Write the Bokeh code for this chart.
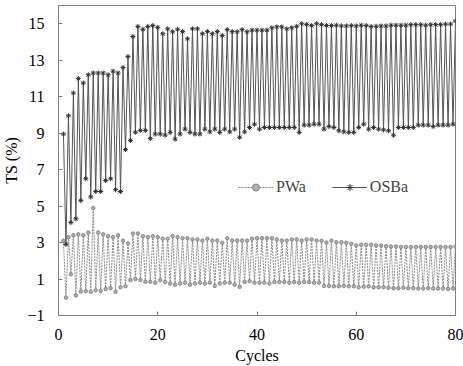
from bokeh.plotting import figure
from bokeh.models import Range1d, FixedTicker, Legend, LegendItem
from bokeh.embed import file_html
from bokeh.resources import INLINE

# ---- data ----
cycles = list(range(1, 81))
x_ticks = [0, 20, 40, 60, 80]
y_ticks = [-1, 1, 3, 5, 7, 9, 11, 13, 15]

osba_high = [8.95, 9.95, 11.2, 12.0, 11.75, 12.2, 12.3, 12.3, 12.3, 12.2,
             12.4, 12.3, 12.6, 13.2, 14.3, 14.85, 14.7, 14.85, 14.9, 14.8,
             14.45, 14.72, 14.56, 14.7, 14.57, 14.17, 14.72, 14.72, 14.45, 14.57,
             14.45, 14.57, 14.36, 14.68, 14.57, 14.56, 14.68, 14.56, 14.65, 14.65,
             14.65, 14.65, 14.78, 14.83, 14.83, 14.72, 14.78, 14.86, 15.0, 14.96,
             14.9, 15.0, 14.95, 14.9, 14.9, 14.92, 14.88, 14.88, 14.9, 14.88,
             14.92, 14.9, 14.85, 14.86, 14.88, 14.88, 14.92, 14.92, 14.92, 14.92,
             14.95, 14.95, 14.95, 14.92, 14.95, 14.95, 14.95, 14.98, 14.98, 15.15]
osba_low = [2.9, 4.1, 4.3, 5.3, 6.5, 5.5, 5.8, 5.8, 6.4, 6.5,
            5.9, 5.8, 8.1, 8.6, 9.05, 9.15, 9.15, 8.7, 8.95,
            8.95, 8.89, 9.04, 8.67, 8.95, 9.22, 9.04, 8.95, 8.95, 9.22,
            9.07, 9.22, 9.04, 9.22, 9.07, 9.22, 8.77, 9.07, 9.31, 9.49,
            9.22, 9.31, 9.31, 9.31, 9.31, 9.31, 9.31, 9.31, 9.04, 9.44,
            9.44, 9.49,
            9.49, 9.22, 9.36, 9.31, 9.13, 9.07, 9.04, 9.04, 9.31, 9.49,
            9.22, 9.31, 9.22, 9.18, 9.13, 8.89, 9.31, 9.31, 9.31, 9.31,
            9.44, 9.44, 9.44, 9.36, 9.44, 9.44, 9.44, 9.49]
pwa_high = [3.1, 3.3, 3.4, 3.45, 3.4, 3.55, 4.9, 3.55, 3.45, 3.35,
            3.3, 3.4, 3.1, 2.95, 3.5, 3.5, 3.35, 3.3, 3.35, 3.3,
            3.21, 3.21, 3.35, 3.30, 3.24, 3.24, 3.17, 3.17, 3.11, 3.21,
            3.11, 3.11, 2.99, 3.24, 3.11, 3.11, 3.11, 3.11, 3.21, 3.24,
            3.24, 3.24, 3.24, 3.17, 3.11, 3.11, 3.17, 3.17, 3.11, 3.17,
            3.17, 3.11, 3.1, 3.0, 3.11, 3.02, 3.02, 2.99, 2.93, 2.84,
            2.88, 2.88, 2.88, 2.84, 2.84, 2.8, 2.78, 2.78, 2.76, 2.76,
            2.76, 2.76, 2.76, 2.76, 2.76, 2.76, 2.76, 2.76, 2.76, 2.78]
pwa_low = [-0.02, 1.26, 0.1, 0.32, 0.33, 0.3, 0.38, 0.35, 0.45, 0.5,
           0.3, 0.55, 0.6, 0.95, 1.0, 0.95, 0.85, 0.85, 0.8,
           0.93, 0.84, 0.75, 0.69, 0.75, 0.80, 0.69, 0.75, 0.80, 0.75,
           0.80, 0.62, 0.75, 0.80, 0.80, 0.69, 0.57, 0.84, 0.88, 0.80,
           0.80, 0.80, 0.75, 0.84, 0.84, 0.84, 0.80, 0.84, 0.80, 0.84,
           0.84, 0.80,
           0.8, 0.62, 0.62, 0.6, 0.6, 0.62, 0.6, 0.6, 0.55, 0.58,
           0.6, 0.55, 0.55, 0.55, 0.52, 0.5, 0.5, 0.52, 0.5, 0.5,
           0.48, 0.48, 0.5, 0.48, 0.48, 0.48, 0.46, 0.48]


def interleave(high, low):
    xs, ys = [], []
    for i, c in enumerate(cycles):
        xs.append(c)
        ys.append(high[i])
        if i < len(low):
            xs.append(c + 0.5)
            ys.append(low[i])
    return xs, ys


FONT = "Liberation Serif"

p = figure(width=463, height=366, output_backend="svg", toolbar_location=None,
           x_range=Range1d(0, 80), y_range=Range1d(-1, 16),
           min_border_left=58, min_border_right=8, min_border_top=5,
           min_border_bottom=49)
p.xgrid.visible = False
p.ygrid.visible = False
p.outline_line_color = "#808080"
p.background_fill_color = "white"
p.border_fill_color = "white"

px, py = interleave(pwa_high, pwa_low)
ox, oy = interleave(osba_high, osba_low)

pl = p.line(px, py, line_color="#8a8a8a", line_width=1, line_dash="2 1")
pm = p.scatter(px, py, marker="circle", size=3.5, line_color="#777777",
               fill_color="#b0b0b0", line_width=0.8)
ol = p.line(ox, oy, line_color="#555555", line_width=1)
om = p.scatter(ox, oy, marker="asterisk", size=5, line_color="#333333",
               line_width=1)

for ax in (p.xaxis[0], p.yaxis[0]):
    ax.axis_line_color = "#808080"
    ax.major_tick_line_color = "#808080"
    ax.major_tick_in = 4
    ax.major_tick_out = 0
    ax.minor_tick_line_color = None
    ax.major_label_text_font = FONT
    ax.major_label_text_font_size = "16px"
    ax.major_label_text_color = "black"
    ax.axis_label_text_font = FONT
    ax.axis_label_text_font_size = "16px"
    ax.axis_label_text_font_style = "normal"
    ax.axis_label_text_color = "black"

p.xaxis.ticker = FixedTicker(ticks=x_ticks)
p.yaxis.ticker = FixedTicker(ticks=y_ticks)
p.xaxis.axis_label = "Cycles"
p.yaxis.axis_label = "TS (%)"
p.xaxis.major_label_standoff = 13
p.xaxis.axis_label_standoff = 4
p.yaxis.major_label_standoff = 14
p.yaxis.axis_label_standoff = 4

legend = Legend(items=[LegendItem(label="PWa", renderers=[pl, pm]),
                       LegendItem(label="OSBa", renderers=[ol, om])],
                orientation="horizontal", location=(180, 119),
                glyph_width=35, glyph_height=18, label_standoff=3,
                spacing=26, padding=0, margin=0,
                label_text_font=FONT, label_text_font_size="16px",
                border_line_color=None, background_fill_alpha=0)
p.add_layout(legend, "center")

open("out.html", "w").write(file_html(p, INLINE))
